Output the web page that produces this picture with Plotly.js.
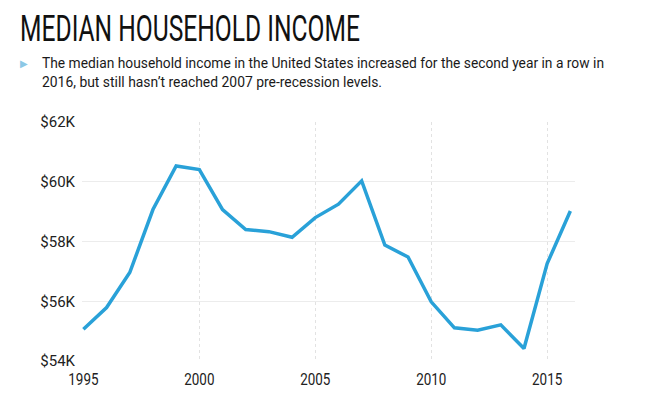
<!DOCTYPE html>
<html>
<head>
<meta charset="utf-8">
<script src="https://cdn.plot.ly/plotly-3.0.1.min.js"></script>
<style>
  html, body { margin: 0; padding: 0; background: #fff; }
  #chart { width: 667px; height: 400px; }
</style>
</head>
<body>
<div id="chart"></div>
<script>
// ---- data ----
const years = [1995, 1996, 1997, 1998, 1999, 2000, 2001, 2002, 2003, 2004, 2005,
               2006, 2007, 2008, 2009, 2010, 2011, 2012, 2013, 2014, 2015, 2016];
const income = [55060, 55790, 56960, 59070, 60530, 60410, 59070, 58400, 58330, 58140, 58800,
                59250, 60030, 57880, 57480, 55980, 55110, 55030, 55210, 54420, 57260, 59020];
const yTickVals = [54000, 56000, 58000, 60000, 62000];
const yTickText = ['$54K', '$56K', '$58K', '$60K', '$62K'];
const xTickVals = [1995, 2000, 2005, 2010, 2015];
const xGridVals = [2000, 2005, 2010, 2015];
const titleText = 'MEDIAN HOUSEHOLD INCOME';
const subtitleLines = [
  'The median household income in the United States increased for the second year in a row in',
  '2016, but still hasn\u2019t reached 2007 pre-recession levels.'
];

const trace = {
  x: years, y: income, type: 'scatter', mode: 'lines',
  line: { color: '#29a1d8', width: 3.5 },
  hoverinfo: 'skip'
};
// invisible trace to activate the grid-only overlay axis
const gridTrace = {
  x: years, y: income, xaxis: 'x2', type: 'scatter', mode: 'lines',
  line: { color: 'rgba(0,0,0,0)', width: 0 }, hoverinfo: 'skip'
};

const xRange = [1994.94, 2016.2];

const layout = {
  width: 667, height: 400,
  margin: { l: 82, r: 92, t: 122, b: 39, pad: 0 },
  paper_bgcolor: '#ffffff', plot_bgcolor: '#ffffff',
  showlegend: false, hovermode: false,
  xaxis: {
    range: xRange, tickvals: xTickVals, ticktext: xTickVals.map(String),
    showgrid: false, zeroline: false, showline: false, ticks: '',
    tickfont: { family: 'Roboto', size: 17, color: '#222' },
    ticklabelstandoff: 6
  },
  xaxis2: {
    overlaying: 'x', matches: 'x', range: xRange, tickvals: xGridVals,
    showticklabels: false, showgrid: true, griddash: 'dot', gridcolor: '#e2e2e2', gridwidth: 1,
    zeroline: false, showline: false, ticks: ''
  },
  yaxis: {
    range: [54000, 62000], tickvals: yTickVals, ticktext: yTickText,
    showgrid: true, gridcolor: '#ececec', gridwidth: 1,
    zeroline: false, showline: false, ticks: '',
    tickfont: { family: 'Roboto', size: 15, color: '#222' },
    ticklabelstandoff: 6
  },
  annotations: [
    { xref: 'paper', yref: 'paper', x: (18 - 82) / 493, y: (361 - 28.4) / 239,
      xanchor: 'left', yanchor: 'middle', align: 'left', showarrow: false,
      text: titleText, font: { family: 'Roboto', weight: 400, size: 37, color: '#111' } },
    { xref: 'paper', yref: 'paper', x: (24 - 82) / 493, y: (361 - 64) / 239,
      xanchor: 'center', yanchor: 'middle', showarrow: false,
      text: '\u25B6', font: { family: 'DejaVu Sans', size: 10, color: '#8cc8e6' } },
    { xref: 'paper', yref: 'paper', x: (40 - 82) / 493, y: (361 - 63.3) / 239,
      xanchor: 'left', yanchor: 'middle', align: 'left', showarrow: false,
      text: subtitleLines[0], font: { family: 'Roboto', size: 14, color: '#1a1a1a' } },
    { xref: 'paper', yref: 'paper', x: (40 - 82) / 493, y: (361 - 82) / 239,
      xanchor: 'left', yanchor: 'middle', align: 'left', showarrow: false,
      text: subtitleLines[1], font: { family: 'Roboto', size: 14, color: '#1a1a1a' } }
  ]
};

function squeezeTo(el, width) {
  el.setAttribute('textLength', width);
  el.setAttribute('lengthAdjust', 'spacingAndGlyphs');
}

Plotly.newPlot('chart', [gridTrace, trace], layout, { staticPlot: true, displayModeBar: false })
  .then(function (gd) {
    // condensed look for x tick labels
    gd.querySelectorAll('.xtick text').forEach(function (t) {
      squeezeTo(t, t.getComputedTextLength() * 0.79);
    });
    const ann = gd.querySelectorAll('.annotation-text');
    const targets = [340, null, 562, 340];
    ann.forEach(function (t, i) {
      if (targets[i]) squeezeTo(t, targets[i]);
    });
  });
</script>
</body>
</html>
